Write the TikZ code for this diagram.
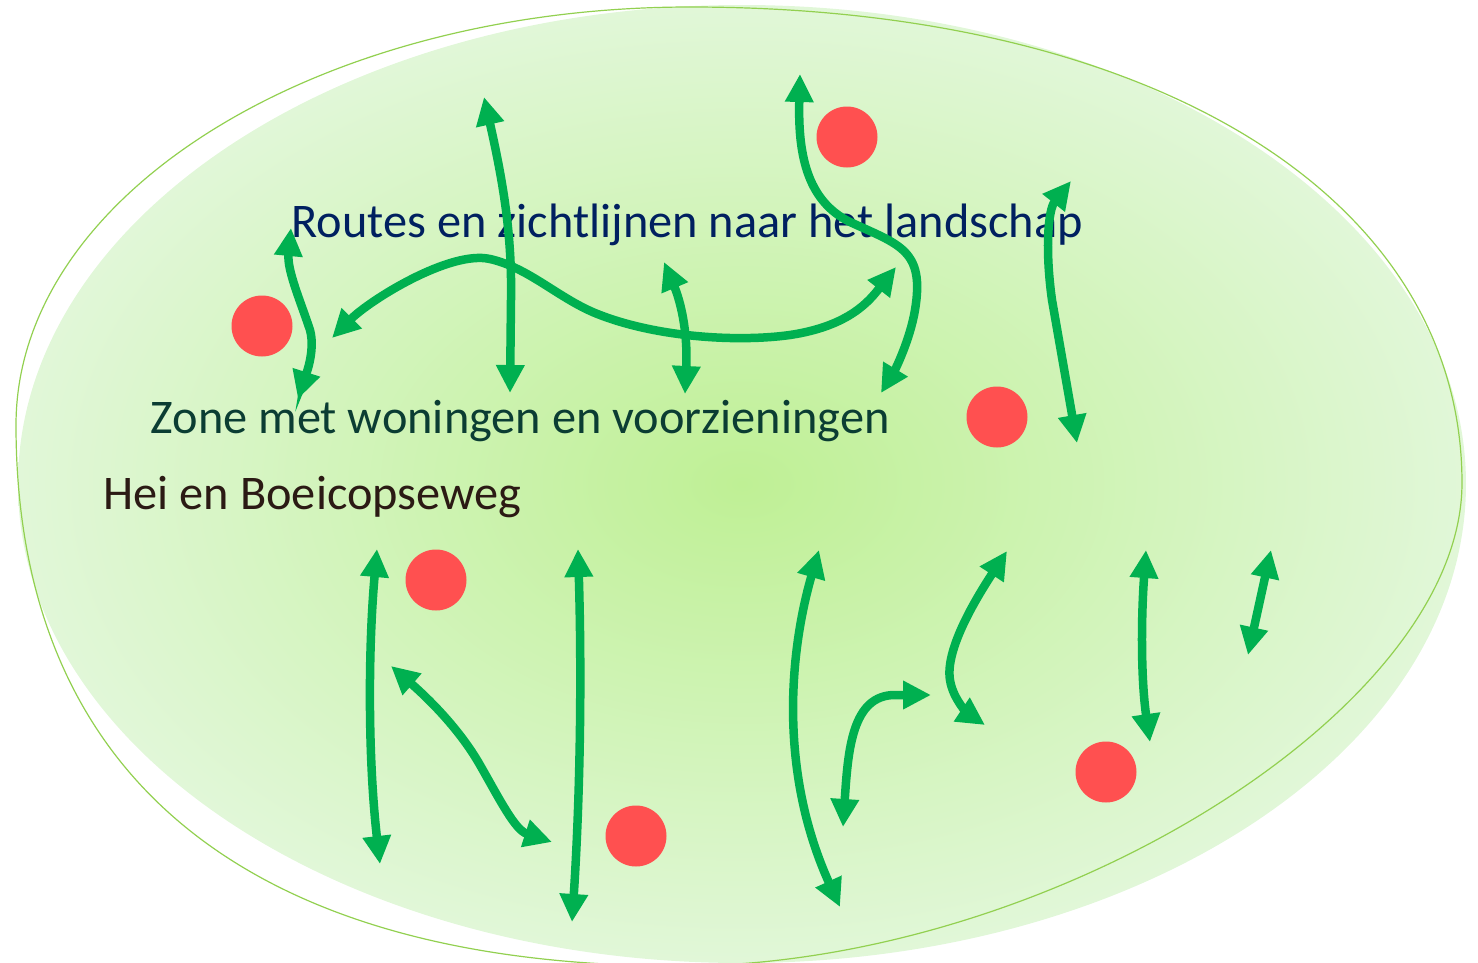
\documentclass[tikz,border=0pt]{standalone}
\usepackage{fontspec}
\setmainfont{Carlito}
\usetikzlibrary{arrows.meta}
\definecolor{routegreen}{HTML}{00B050}
\definecolor{poired}{HTML}{FF5050}
\definecolor{zonecore}{HTML}{BFF095}
\definecolor{zoneedge}{HTML}{E1F7D8}
\definecolor{zoneline}{HTML}{92D050}
\definecolor{routeblue}{HTML}{002060}
\definecolor{zoneteal}{HTML}{0B3D33}
\definecolor{roadbrown}{HTML}{2B1A14}
\tikzset{
     route/.style = { line width=0.85mm, color=routegreen, <->, >={Triangle[length=2.8mm,width=2.7mm]} },
       poi/.style = { circle, fill=poired, minimum size=6.1mm, inner sep=0pt },
  zonetext/.style = { font=\fontsize{13.75}{16}\selectfont, anchor=base west, inner sep=0pt },
  zoneedge/.style = { draw=zoneline, line width=0.12mm }
}

\begin{document}
\begin{tikzpicture}[x=0.1mm, y=-0.1mm]
  \useasboundingbox (0,0) rectangle (1478,963);
  \clip (0,0) rectangle (1478,963);

  \shade[inner color=zonecore, outer color=zoneedge] (742,484) ellipse [x radius=724, y radius=479];
  \draw[zoneedge] (16,425) .. controls (16,194) and (318,7) .. (690,7)
                           .. controls (1153,7) and (1462,197) .. (1462,483)
                           .. controls (1462,710) and (1048,966) .. (680,966)
                           .. controls (248,966) and (16,777) .. (16,425) -- cycle;

  \node[zonetext, routeblue] (routes) at (291,237) {Routes en zichtlijnen naar het landschap};
  \node[zonetext, zoneteal]  (zone)   at (150,433) {Zone met woningen en voorzieningen};
  \node[zonetext, roadbrown] (hei)    at (103,509) {Hei en Boeicopseweg};

  % upper zone
  \draw[route] (291,228) .. controls (287,270) and (300,300) .. (310,330)
                         .. controls (316,352) and (304,380) .. (298,399);
  \draw[route] (484,97) .. controls (505,190) and (512,240) .. (511,300) -- (510,393);
  \draw[route] (332,338) .. controls (370,300) and (450,250) .. (490,259)
                         .. controls (530,268) and (560,300) .. (600,315)
                         .. controls (660,338) and (740,342) .. (790,335)
                         .. controls (850,326) and (870,300) .. (896,267);
  \draw[route] (664,262) .. controls (680,300) and (688,330) .. (685,394);
  \draw[route] (800,74) .. controls (798,150) and (805,200) .. (850,222)
                        .. controls (900,245) and (925,250) .. (915,310)
                        .. controls (910,340) and (895,370) .. (881,393);
  \draw[route] (1071,181) .. controls (1048,210) and (1045,250) .. (1052,300) -- (1077,443);

  % lower zone
  \draw[route] (377,549) .. controls (368,650) and (368,760) .. (380,864);
  \draw[route] (391,666) .. controls (430,700) and (460,730) .. (480,765)
                         .. controls (500,800) and (515,830) .. (552,842);
  \draw[route] (578,549) .. controls (582,680) and (580,800) .. (572,922);
  \draw[route] (819,550) .. controls (790,650) and (778,770) .. (840,907);
  \draw[route] (843,827) .. controls (848,750) and (852,695) .. (895,695) -- (931,695);
  \draw[route] (1007,551) .. controls (975,600) and (945,650) .. (950,680)
                          .. controls (953,700) and (970,715) .. (985,725);
  \draw[route] (1146,550) .. controls (1141,620) and (1141,680) .. (1150,742);
  \draw[route] (1271,550) -- (1248,655);

  \foreach \n/\x/\y in {1/847/137, 2/262/326, 3/997/417, 4/436/580, 5/636/836, 6/1106/772}
    \node[poi] (poi\n) at (\x,\y) {};
\end{tikzpicture}
\end{document}
